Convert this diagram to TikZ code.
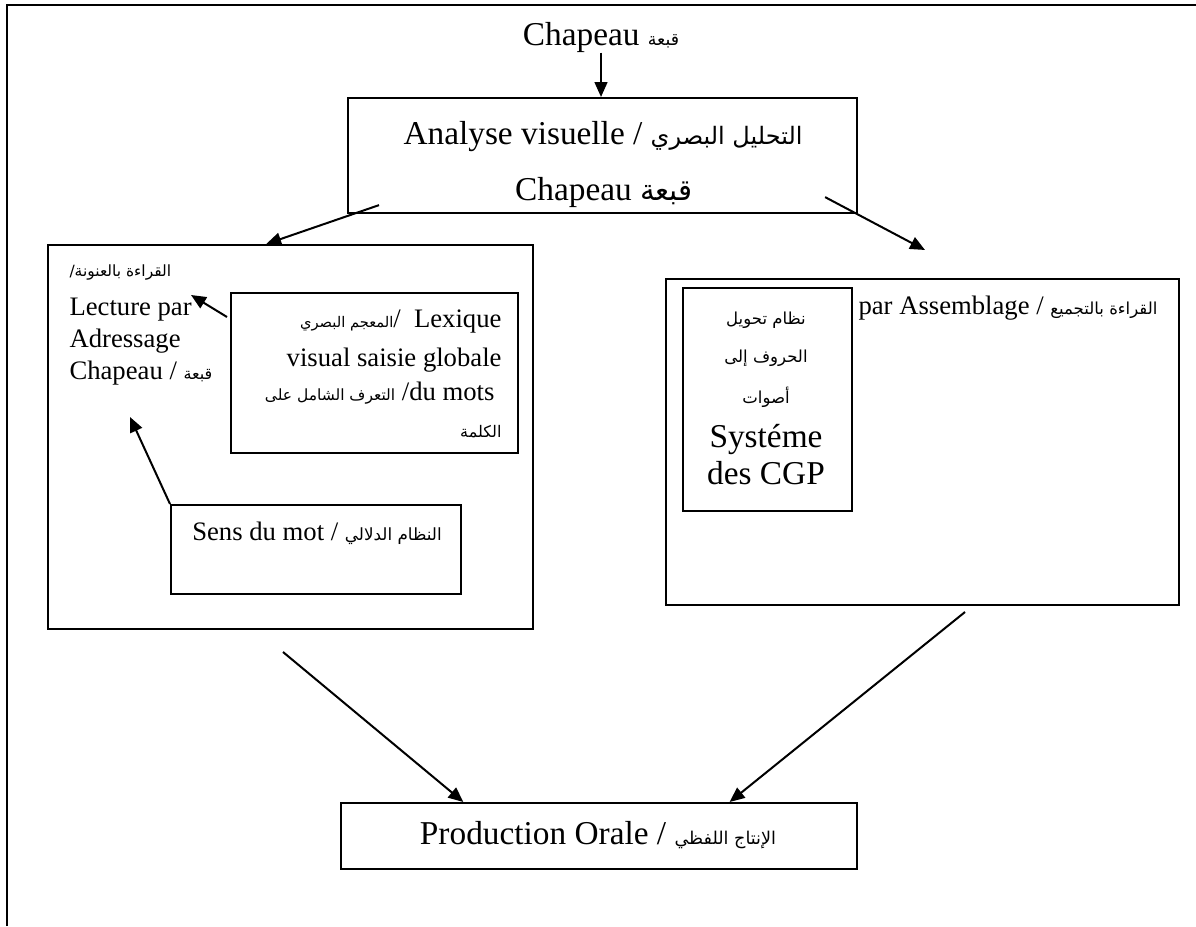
\documentclass[tikz,border=0pt]{standalone}
\usepackage{fontspec}
\setmainfont{Liberation Serif}
\newfontfamily\arabicfont[Script=Arabic]{DejaVu Sans}
\TeXXeTstate=1
\usetikzlibrary{arrows.meta,calc}
\newcommand\unitpx{0.375pt}
\newcommand\arsz[1]{\arabicfont\fontsize{#1}{#1}\selectfont}
\begin{document}
\begin{tikzpicture}[x=\unitpx,y=-\unitpx,
    big/.style={font=\fontsize{12.5}{14}\selectfont,inner sep=0pt},
    txt/.style={font=\fontsize{10}{12}\selectfont,inner sep=0pt},
    arr/.style={-{Triangle[length=5.6pt,width=4.8pt]},line width=0.75pt}]
\useasboundingbox (0,0) rectangle (1196,926);
\draw[line width=1.1pt] (7,926) -- (7,5) -- (1196,5);
\begin{scope}[every node/.style={draw,line width=0.8pt,anchor=north west,inner sep=0pt}]
		\node[minimum width=509*\unitpx,minimum height=115*\unitpx] (analyse) at (347,97) {};
		\node[minimum width=485*\unitpx,minimum height=384*\unitpx] (adressage) at (47,244) {};
		\node[minimum width=287*\unitpx,minimum height=160*\unitpx] (lexique) at (230,292) {};
		\node[minimum width=290*\unitpx,minimum height=89*\unitpx] (sens) at (170,504) {};
		\node[minimum width=513*\unitpx,minimum height=326*\unitpx] (assemblage) at (665,278) {};
		\node[minimum width=169*\unitpx,minimum height=223*\unitpx] (cgp) at (682,287) {};
		\node[minimum width=516*\unitpx,minimum height=66*\unitpx] (production) at (340,802) {};
\end{scope}
\node[big] (title) at (601,37) {Chapeau {\arsz{6.5}\beginR قبعة\endR}};
\node[big] (analyse1) at (603,137) {Analyse visuelle / {\arsz{9}\beginR التحليل البصري\endR}};
\node[big] (analyse2) at (604,192) {Chapeau {\arsz{11}\beginR قبعة\endR}};
\begin{scope}[every node/.style={txt,anchor=west}]
		\node (adr0) at (69,273) {{\arsz{5.8}\beginR القراءة بالعنونة/\endR}};
		\node (adr1) at (69,310) {Lecture par};
		\node (adr2) at (69,341) {Adressage};
		\node (adr3) at (69,373) {Chapeau / {\arsz{6}\beginR قبعة\endR}};
		\node (ass) at (858,308) {par Assemblage / {\arsz{6.2}\beginR القراءة بالتجميع\endR}};
\end{scope}
\begin{scope}[every node/.style={txt,anchor=east}]
		\node (lex1) at (502,322) {{\arsz{5.5}\beginR المعجم البصري\endR}/\ \ Lexique};
		\node (lex2) at (502,360) {visual saisie globale};
		\node (lex3) at (495,393) {{\arsz{5.8}\beginR التعرف الشامل على\endR} /du mots};
		\node (lex4) at (502,432) {{\arsz{6}\beginR الكلمة\endR}};
\end{scope}
\node[txt] (sens1) at (317,533) {Sens du mot / {\arsz{6.3}\beginR النظام الدلالي\endR}};
\begin{scope}[every node/.style={txt}]
		\node (cgp1) at (766,320) {{\arsz{6.2}\beginR نظام تحويل\endR}};
		\node (cgp2) at (766,358) {{\arsz{6.2}\beginR الحروف إلى\endR}};
		\node (cgp3) at (766,397) {{\arsz{6.2}\beginR أصوات\endR}};
		\node[big] (cgp4) at (766,440) {Systéme};
		\node[big] (cgp5) at (766,473) {des CGP};
\end{scope}
\node[big] (prod1) at (598,835) {Production Orale / {\arsz{6.6}\beginR الإنتاج اللفظي\endR}};
\coordinate (lt) at ($(analyse.south west)+(32,-9)$);
\coordinate (rt) at ($(analyse.south east)+(-33,-17)$);
\coordinate (rtip) at (925,250);
\coordinate (lextail) at ($(lexique.north west)+(-3,25)$);
\coordinate (lextip) at (191,295);
\coordinate (senstip) at (130,417);
\coordinate (bl) at (283,652);
\coordinate (br) at (965,612);
\begin{scope}[every path/.style={arr}]
		\draw (title.south) -- (title.south |- analyse.north);
		\draw (lt) -- ($(adressage.north west)!0.45!(adressage.north east)$);
		\draw (rt) -- (rtip);
		\draw (lextail) -- (lextip);
		\draw (sens.north west) -- (senstip);
		\draw (bl) -- ($(production.north west)!0.238!(production.north east)$);
		\draw (br) -- ($(production.north west)!0.752!(production.north east)$);
\end{scope}
\end{tikzpicture}
\end{document}
